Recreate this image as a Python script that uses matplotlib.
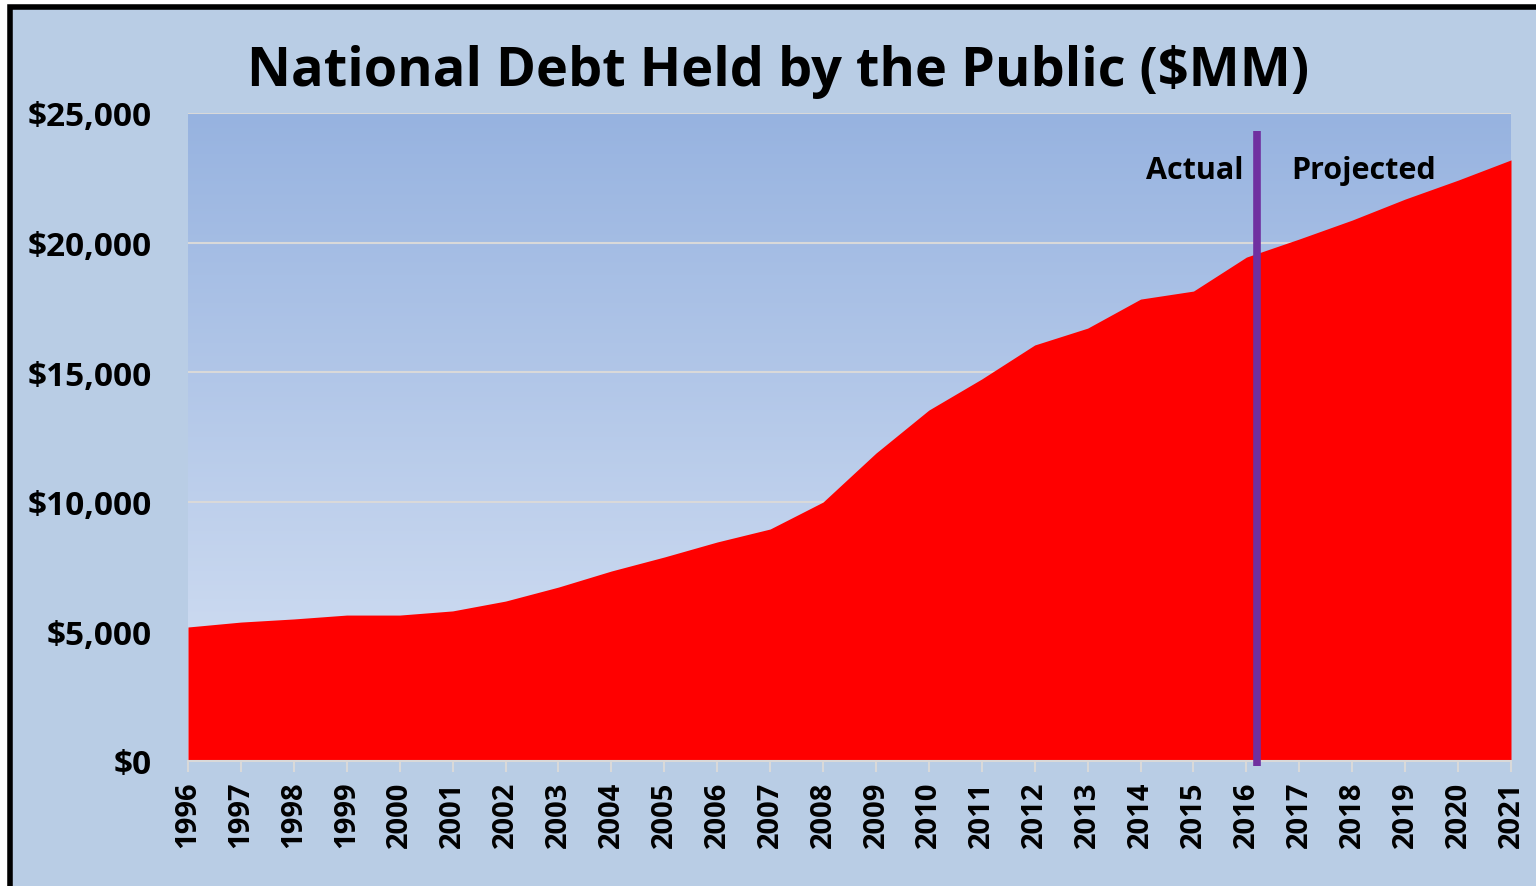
import numpy as np
import matplotlib
matplotlib.use("Agg")
from matplotlib import pyplot as plt
from matplotlib.patches import Rectangle

years = list(range(1996, 2022))
debt = [5170, 5360, 5480, 5630, 5630, 5790, 6170, 6710, 7330, 7870,
        8450, 8950, 9990, 11880, 13540, 14740, 16050, 16700, 17820, 18130,
        19440, 20140, 20870, 21680, 22410, 23190]
yticks = [0, 5000, 10000, 15000, 20000, 25000]
split_year = 2016.2

plt.rcParams['font.family'] = ['Open Sans', 'DejaVu Sans']
plt.rcParams['font.weight'] = 'bold'

W, H = 1536, 887
fig = plt.figure(figsize=(W / 100, H / 100), dpi=100)
fig.patch.set_facecolor('white')

# outer chart frame (only top and left edges visible)
frame = Rectangle((9.5 / W, -0.2), 1.5, 1.2 - 8 / H, transform=fig.transFigure,
                  facecolor='#B9CDE5', edgecolor='black', linewidth=4, zorder=-1)
fig.patches.append(frame)

ax = fig.add_axes([188 / W, 1 - 762 / H, (1511 - 188) / W, (762 - 114) / H])
ax.set_facecolor('none')

# vertical gradient background
grad = np.linspace(0, 1, 256).reshape(-1, 1)
top_c = np.array([0x97, 0xB3, 0xE0]) / 255
bot_c = np.array([0xD8, 0xE3, 0xF4]) / 255
img = top_c * (1 - grad)[..., None] + bot_c * grad[..., None]
ax.imshow(img, aspect='auto', extent=[0, 1, 0, 1], transform=ax.transAxes, zorder=0)

for v in yticks[1:]:
    ax.axhline(v, color='#D9D9D9', linewidth=1.5, zorder=1)

ax.fill_between(years, debt, 0, color='#FF0000', linewidth=0, zorder=2)

ax.plot([split_year, split_year], [-200, 24300], color='#7030A0', linewidth=5.5,
        solid_capstyle='butt', clip_on=False, zorder=3)

ax.text(2015.95, 22800, 'Actual', ha='right', va='center', fontsize=22, fontweight='bold')
ax.text(2016.85, 22800, 'Projected', ha='left', va='center', fontsize=22, fontweight='bold')

ax.set_xlim(1996, 2021)
ax.set_ylim(0, 25000)
ax.set_xticks(years)
ax.set_xticklabels([str(y) for y in years], rotation=90, fontsize=21, fontweight='bold')
ax.set_yticks(yticks)
ax.set_yticklabels(['${:,}'.format(v) for v in yticks], fontsize=24, fontweight='bold')
ax.tick_params(axis='x', length=8, width=1.5, color='#D9D9D9', pad=6)
ax.tick_params(axis='y', length=0, pad=26)
for s in ['top', 'right', 'left']:
    ax.spines[s].set_visible(False)
ax.spines['bottom'].set_color('#D9D9D9')
ax.spines['bottom'].set_linewidth(1.5)

fig.text(778 / W, 1 - 72 / H, 'National Debt Held by the Public ($MM)', ha='center',
         va='center', fontsize=39, fontweight='bold')

fig.savefig('out.png', dpi=100)
